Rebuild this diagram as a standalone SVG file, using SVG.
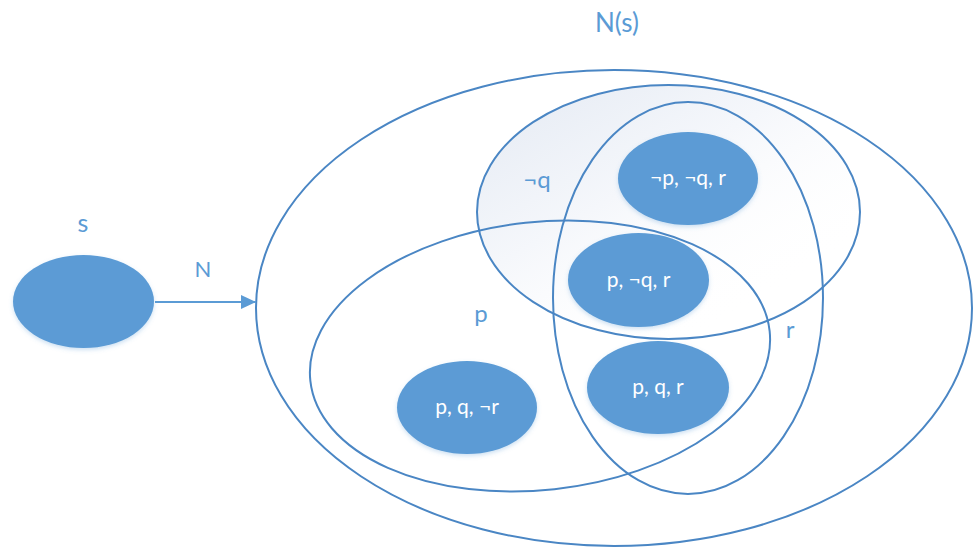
<svg xmlns="http://www.w3.org/2000/svg" width="973" height="547" viewBox="0 0 973 547">
  <defs>
    <linearGradient id="gq" x1="0" y1="0" x2="0.75" y2="0.85">
      <stop offset="0" stop-color="#e4eaf3"/>
      <stop offset="0.5" stop-color="#f5f7fb"/>
      <stop offset="1" stop-color="#ffffff" stop-opacity="0"/>
    </linearGradient>
    <filter id="sh" x="-20%" y="-20%" width="140%" height="150%">
      <feDropShadow dx="0" dy="2" stdDeviation="2" flood-color="#5b9bd5" flood-opacity="0.3"/>
    </filter>
    <marker id="ah" viewBox="0 0 15 14" refX="15" refY="7" markerWidth="15" markerHeight="14" orient="auto" markerUnits="userSpaceOnUse">
      <path d="M0,0 L15,7 L0,14 z" fill="#5b9bd5"/>
    </marker>
  </defs>
  <style>
    .set { fill: none; stroke: #4a86c4; stroke-width: 2; }
    .world { fill: #5b9bd5; filter: url(#sh); }
    .wt { fill: #ffffff; font-family: Lato, "Open Sans", "Liberation Sans", sans-serif; font-size: 21px; text-anchor: middle; }
    .lbl { fill: #5b9bd5; font-family: Lato, "Open Sans", "Liberation Sans", sans-serif; text-anchor: middle; }
  </style>
  <rect width="973" height="547" fill="#ffffff"/>

  <g id="set-Ns">
    <ellipse class="set" cx="614" cy="308" rx="358" ry="238"/>
    <text class="lbl" x="617" y="32" font-size="26">N(s)</text>
  </g>
  <g id="set-notq">
    <ellipse cx="668.5" cy="212" rx="191.5" ry="127" fill="url(#gq)"/>
    <ellipse class="set" cx="668.5" cy="212" rx="191.5" ry="127"/>
    <text class="lbl" x="537" y="188" font-size="24">¬q</text>
  </g>
  <g id="set-r">
    <ellipse class="set" cx="688" cy="298" rx="135" ry="196"/>
    <text class="lbl" x="790" y="338" font-size="24">r</text>
  </g>
  <g id="set-p">
    <ellipse class="set" cx="540" cy="356" rx="231" ry="134" transform="rotate(-6.2 540 356)"/>
    <text class="lbl" x="481" y="322" font-size="24">p</text>
  </g>

  <g id="connectors">
    <line x1="155" y1="302" x2="256" y2="302" stroke="#5b9bd5" stroke-width="2" marker-end="url(#ah)"/>
    <text class="lbl" x="203" y="277" font-size="22">N</text>
  </g>

  <g id="node-s">
    <ellipse class="world" cx="83.5" cy="301.5" rx="70.5" ry="46.5"/>
    <text class="lbl" x="83" y="232" font-size="25">s</text>
  </g>
  <g id="node-np-nq-r">
    <ellipse class="world" cx="688" cy="178.5" rx="70" ry="46.5"/>
    <text class="wt" x="688" y="185">¬p, ¬q, r</text>
  </g>
  <g id="node-p-nq-r">
    <ellipse class="world" cx="638.5" cy="280" rx="70.5" ry="47"/>
    <text class="wt" x="638.5" y="287">p, ¬q, r</text>
  </g>
  <g id="node-p-q-r">
    <ellipse class="world" cx="658" cy="387.5" rx="71" ry="46.5"/>
    <text class="wt" x="658" y="394">p, q, r</text>
  </g>
  <g id="node-p-q-nr">
    <ellipse class="world" cx="467" cy="407.5" rx="70" ry="46.5"/>
    <text class="wt" x="467" y="414">p, q, ¬r</text>
  </g>
</svg>
